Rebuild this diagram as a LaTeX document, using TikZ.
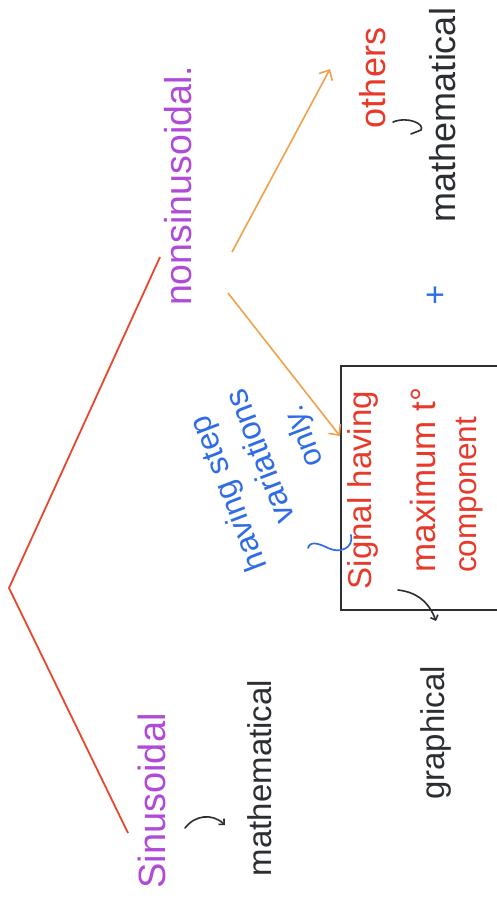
\documentclass[tikz,border=0pt]{standalone}
\usepackage{fontspec}
\setmainfont{Liberation Sans}
\usetikzlibrary{arrows.meta}
\definecolor{purp}{HTML}{B24AD8}
\definecolor{redtxt}{HTML}{E83A2A}
\definecolor{redline}{HTML}{E8472F}
\definecolor{orng}{HTML}{F2A04A}
\definecolor{blu}{HTML}{2F6CE6}
\definecolor{ink}{HTML}{2B2E33}
\begin{document}
\begin{tikzpicture}[x=1pt,y=-1pt,
  txt/.style={inner sep=0pt, rotate=90, font=\fontsize{#1}{#1}\selectfont},
  btxt/.style={inner sep=0pt, rotate=111, text=blu, font=\fontsize{#1}{#1}\selectfont},
  redstroke/.style={redline, line width=1.8pt},
  orarrow/.style={orng, line width=1.6pt, -{Straight Barb[length=8pt,width=15pt,line width=1.6pt]}},
  handarrow/.style={ink, line width=1.6pt, line cap=round},
  boxstyle/.style={draw=ink, line width=2pt, minimum width=160pt, minimum height=244pt, inner sep=0pt}
]
\fill[white] (0,0) rectangle (496,903);
\useasboundingbox (0,0) rectangle (496,903);

% texts
\node[txt=37.5, text=purp] (nonsin) at (178,186) {nonsinusoidal.};
\node[txt=36, text=redtxt] (others) at (373,78) {others};
\node[txt=36, text=ink] (math1) at (443,115) {mathematical};
\node[txt=38, text=purp] (sinus) at (152,801) {Sinusoidal};
\node[txt=33, text=ink] (math2) at (260,778) {mathematical};
\node[txt=33, text=ink] (graph) at (436,733) {graphical};
\node[text=blu, inner sep=0pt, font=\fontsize{34}{34}\selectfont] (plus) at (435,297) {+};

% box and its text
\node[boxstyle] (box) at (421,488) {};
\node[txt=33, text=redtxt] (l1) at (363,490) {Signal having};
\node[txt=35, text=redtxt] (l2) at (423,480) {maximum t°};
\node[txt=31.5, text=redtxt] (l3) at (470,495) {component};

% blue annotation
\node[btxt=32] (b1) at (230,493) {having step};
\node[btxt=33] (b2) at (259,457) {variations};
\node[btxt=31] (b3) at (305,436) {only.};

% red tree lines
\coordinate (rtop) at (160,257);
\coordinate (apex) at (9,588);
\coordinate (rbot) at (128,833);
\draw[redstroke] (rtop) -- (apex) -- (rbot);

% orange arrows
\coordinate (o1s) at (232,252);
\coordinate (o1e) at (330,69);
\coordinate (o2s) at (228,293);
\coordinate (o2e) at (box.west |- 0,436);
\draw[orarrow] (o1s) -- (o1e);
\draw[orarrow] (o2s) -- (o2e);

% small hand arrows
\draw[handarrow] (393,122) .. controls (408,116) and (425,124) .. (421,130) -- (411,134);
\draw[handarrow, -{Straight Barb[length=4pt,width=8pt,line width=1.6pt]}] (185,828) .. controls (195,815) and (212,813) .. (225,825);
\draw[handarrow, -{Straight Barb[length=4pt,width=8pt,line width=1.6pt]}] (398,590) .. controls (415,592) and (428,600) .. (436,621);

% blue brace
\draw[blu, line width=1.7pt, line cap=round] (308,548) .. controls (310,541) and (318,543) .. (328,548) .. controls (340,554) and (354,548) .. (351,535);
\end{tikzpicture}
\end{document}
